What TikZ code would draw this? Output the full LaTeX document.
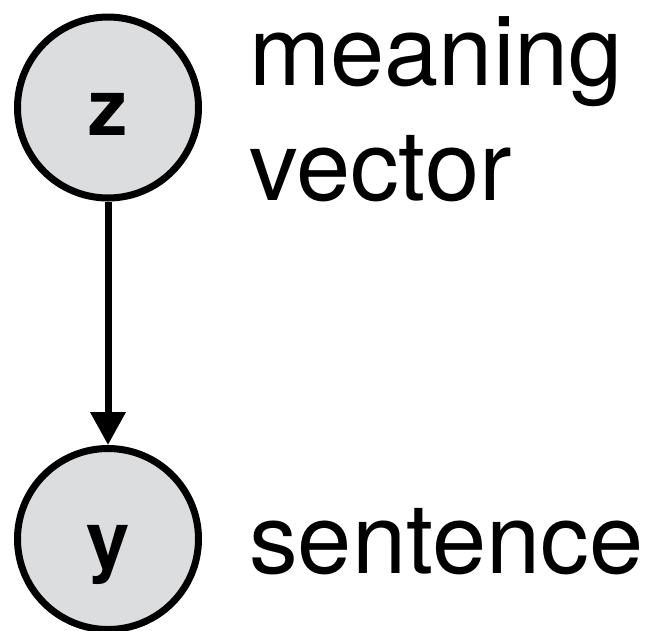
\documentclass[tikz,border=0pt]{standalone}
\usepackage{fontspec}
\setmainfont{TeX Gyre Heros}
\usetikzlibrary{arrows.meta}
\definecolor{nodegray}{HTML}{DCDDDF}
\tikzset{
  var/.style={circle, draw=black, line width=7pt, fill=nodegray, minimum size=181pt, inner sep=0pt,
    font=\fontsize{78}{78}\selectfont\bfseries, text height=60pt, text depth=4pt},
  lbl/.style={anchor=base west, inner sep=0pt, font=\fontsize{97.5}{97.5}\selectfont},
  edge/.style={line width=7pt, -{Triangle[length=33pt,width=34pt]}}
}
\begin{document}
\begin{tikzpicture}[x=1pt,y=-1pt]
\useasboundingbox (0,0) rectangle (651,630);
\node[var] (z) at (108,107.5) {z};
\node[var] (y) at (108,539) {y};
\draw[edge] (z.south) -- (y.north);
\node[lbl] (t1) at (249,85) {meaning};
\node[lbl] (t2) at (249,200) {vector};
\node[lbl] (t3) at (249,573) {sentence};
\end{tikzpicture}
\end{document}
